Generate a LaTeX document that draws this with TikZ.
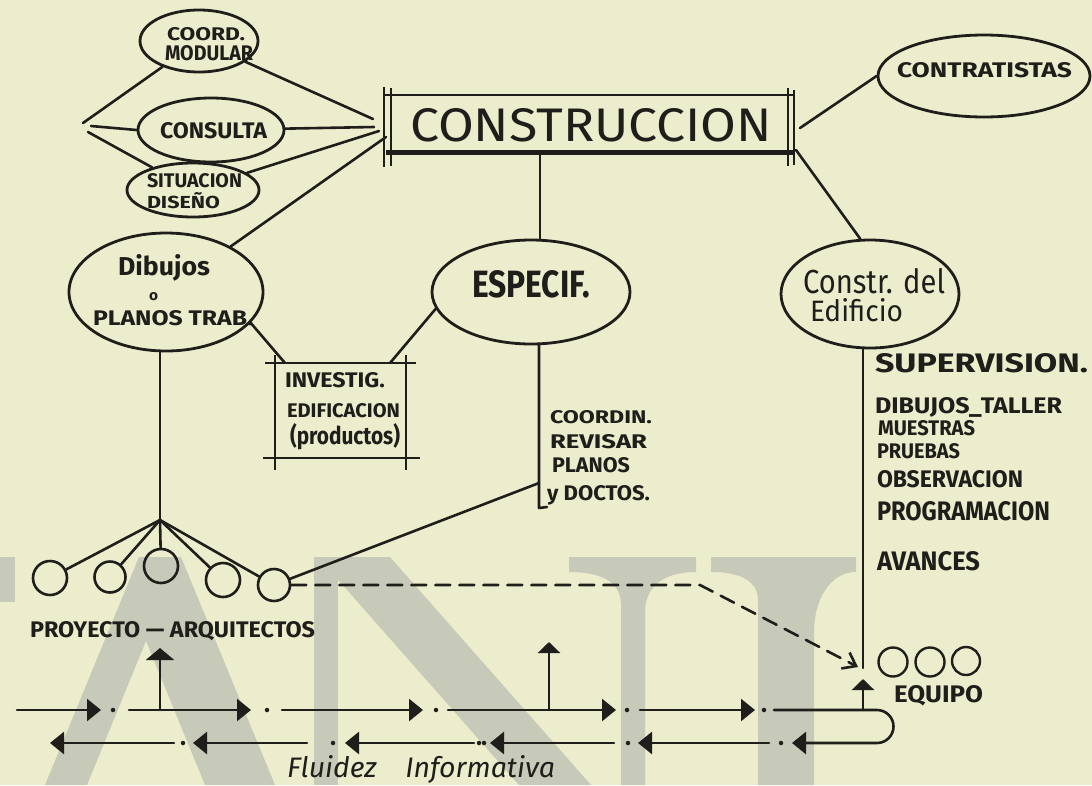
\documentclass[tikz,border=0pt]{standalone}
\usepackage{fontspec}
\setmainfont{Fira Sans}
\usepackage{graphicx}
\usetikzlibrary{shapes.geometric,arrows.meta,calc}
\definecolor{paper}{RGB}{236,237,205}
\definecolor{wm}{RGB}{199,201,185}
\definecolor{ink}{RGB}{32,30,26}
\begin{document}
\begin{tikzpicture}[x=1pt,y=-1pt,
  inkline/.style={draw=ink, line width=2.6pt, line cap=round, line join=round},
  oval/.style={ellipse, draw=ink, line width=2.8pt, inner sep=0pt},
  ring/.style={circle, draw=ink, line width=2.6pt, inner sep=0pt},
  txt/.style={anchor=base west, inner sep=0pt, outer sep=0pt, text=ink, font=\bfseries},
  dotnode/.style={circle, fill=ink, inner sep=0pt, minimum size=4.5pt},
  flow/.style={-{Triangle[length=14pt,width=22pt]}},
  uparrow/.style={-{Triangle[length=12pt,width=28pt]}},
  smallup/.style={-{Triangle[length=11pt,width=22pt]}},
  dashline/.style={dash pattern=on 15pt off 9pt},
  barb/.style={-{Straight Barb[length=12pt,width=18pt]}}
]
\useasboundingbox (0,0) rectangle (1092,785);
\fill[paper] (0,0) rectangle (1092,785);

% ---- watermark ----
\fill[wm] (0,557) rectangle (15,602);
\fill[wm] (139,557) -- (181,557) -- (275,785) -- (205,785) -- (146,641) -- (87,785) -- (45,785) -- cycle;
\fill[wm] (314,557) rectangle (338,785);
\fill[wm] (318,557) -- (390,557) -- (591,785) -- (519,785) -- cycle;
\fill[wm] (569,557) -- (696,557) -- (696,572) .. controls (662,572) and (645,588) .. (645,612) -- (645,785) -- (621,785) -- (621,605) .. controls (621,586) and (608,572) .. (569,572) -- cycle;
\fill[wm] (711,557) -- (856,557) -- (856,572) .. controls (830,572) and (814,600) .. (814,632) -- (814,785) -- (758,785) -- (758,600) .. controls (758,582) and (742,572) .. (711,572) -- cycle;

% ---- ellipses ----
\node[oval, minimum width=118pt, minimum height=62pt] (coord) at (199,41) {};
\node[oval, minimum width=146pt, minimum height=64pt] (consulta) at (211,130) {};
\node[oval, minimum width=132pt, minimum height=54pt] (situacion) at (193,190) {};
\node[oval, minimum width=212pt, minimum height=82pt] (contrat) at (984,76) {};
\node[oval, minimum width=194pt, minimum height=118pt] (dibujos) at (166,292) {};
\node[oval, minimum width=198pt, minimum height=104pt] (especif) at (531,292) {};
\node[oval, minimum width=178pt, minimum height=108pt] (constr) at (870,294) {};

% ---- CONSTRUCCION box ----
\node[inner sep=0pt, minimum width=404pt, minimum height=58pt] (cons) at (589,125) {};
\draw[ink, line width=2pt] (383,95) -- (795,95);
\draw[ink, line width=5pt] (386,152) -- (795,152);
\draw[ink, line width=2pt] (384,87) -- (384,167);
\draw[ink, line width=2pt] (391,88) -- (391,166);
\draw[ink, line width=2pt] (788,88) -- (788,166);
\draw[ink, line width=2pt] (794,90) -- (794,165);

% ---- INVESTIG box ----
\node[inner sep=0pt, minimum width=131pt, minimum height=95pt] (invest) at (340.5,410.5) {};
\draw[ink, line width=2.4pt] (265,363) -- (416,363);
\draw[ink, line width=2.4pt] (263,458) -- (420,458);
\draw[ink, line width=2.4pt] (275,355) -- (275,470);
\draw[ink, line width=2.4pt] (406,355) -- (406,470);

% ---- bottom circles ----
\node[ring, minimum size=34pt] (c1) at (50,578) {};
\node[ring, minimum size=31pt] (c2) at (110,577) {};
\node[ring, minimum size=34pt] (c3) at (161,566) {};
\node[ring, minimum size=34pt] (c4) at (223,580) {};
\node[ring, minimum size=32pt] (c5) at (274,585) {};
\node[ring, minimum size=29pt, line width=2.4pt] (e1) at (893,662) {};
\node[ring, minimum size=29pt, line width=2.4pt] (e2) at (930,662) {};
\node[ring, minimum size=28pt, line width=2.4pt] (e3) at (966,661) {};

% ---- texts ----
\node[txt] (t1) at (167,40) {\resizebox{78pt}{13pt}{COORD.}};
\node[txt] (t2) at (165,60) {\resizebox{88pt}{15pt}{MODULAR}};
\node[txt] (t3) at (160,138) {\resizebox{107pt}{16pt}{CONSULTA}};
\node[txt] (t4) at (147,187) {\resizebox{95pt}{14pt}{SITUACION}};
\node[txt] (t5) at (147,208) {\resizebox{73pt}{16pt}{DISEÑO}};
\node[txt] (t6) at (897,77) {\resizebox{175pt}{15pt}{CONTRATISTAS}};
\node[txt, font=\mdseries] (t7) at (410,141) {\resizebox{362pt}{33pt}{CONSTRUCCION}};
\node[txt] (t8) at (118,275) {\resizebox{92pt}{21pt}{Dibujos}};
\node[txt] (t9) at (149,300) {\resizebox{9pt}{8pt}{o}};
\node[txt] (t10) at (93,325) {\resizebox{160pt}{15pt}{PLANOS TRAB.}};
\node[txt] (t11) at (285,387) {\resizebox{100pt}{15pt}{INVESTIG.}};
\node[txt] (t12) at (287,417) {\resizebox{113pt}{14pt}{EDIFICACION}};
\node[txt] (t13) at (290,444) {\resizebox{110pt}{21pt}{(productos)}};
\node[txt] (t14) at (472,297) {\resizebox{118pt}{27pt}{ESPECIF.}};
\node[txt] (t15) at (550,423) {\resizebox{102pt}{13pt}{COORDIN.}};
\node[txt] (t16) at (550,448) {\resizebox{97pt}{14pt}{REVISAR}};
\node[txt] (t17) at (552,472) {\resizebox{78pt}{15pt}{PLANOS}};
\node[txt] (t18) at (547,500) {\resizebox{103pt}{15pt}{y DOCTOS.}};
\node[txt, font=\mdseries] (t19) at (803,293) {\resizebox{142pt}{25pt}{Constr. del}};
\node[txt, font=\mdseries] (t20) at (810,321) {\resizebox{93pt}{23pt}{Edificio}};
\node[txt] (t21) at (875,372) {\resizebox{213pt}{19pt}{SUPERVISION.}};
\node[txt] (t22) at (875,413) {\resizebox{187pt}{16pt}{DIBUJOS\_TALLER}};
\node[txt] (t23) at (878,435) {\resizebox{97pt}{15pt}{MUESTRAS}};
\node[txt] (t24) at (877,458) {\resizebox{83pt}{15pt}{PRUEBAS}};
\node[txt] (t25) at (877,487) {\resizebox{146pt}{17pt}{OBSERVACION}};
\node[txt] (t26) at (877,520) {\resizebox{173pt}{19pt}{PROGRAMACION}};
\node[txt] (t27) at (877,570) {\resizebox{103pt}{19pt}{AVANCES}};
\node[txt] (t28) at (894,702) {\resizebox{89pt}{17pt}{EQUIPO}};
\node[txt] (t29) at (30,637) {\resizebox{285pt}{16pt}{PROYECTO — ARQUITECTOS}};
\node[txt, font=\itshape] (t30) at (287,777) {\resizebox{268pt}{22pt}{Fluidez\quad Informativa}};

% ---- connectors top-left ----
\coordinate (lj1) at (83,123);
\coordinate (lj2) at (91,126);
\coordinate (lj3) at (88,132);
\draw[inkline] (lj1) -- (coord);
\draw[inkline] (lj2) -- (consulta.west);
\draw[inkline] (lj3) -- (situacion);
\coordinate (r1) at (373,119);
\coordinate (r2) at (374,127);
\coordinate (r3) at (379,131);
\coordinate (r4) at (386,137);
\draw[inkline] (coord) -- (r1);
\draw[inkline] (consulta) -- (r2);
\draw[inkline] (situacion) -- (r3);
\draw[inkline] (dibujos) -- (r4);

% ---- connectors from CONSTRUCCION ----
\coordinate (crt) at (800,128);
\draw[inkline] (crt) -- (contrat.west);
\coordinate (cb) at (540,155);
\draw[inkline] (cb) -- (cb |- especif.north);
\coordinate (cbr) at (796,150);
\draw[inkline] (cbr) -- (constr.100);

% ---- INVESTIG links ----
\draw[inkline] (dibujos.-20) -- ($(invest.north west)+(10,0)$);
\draw[inkline] (especif.190) -- ($(invest.north east)+(-16,0)$);

% ---- especif vertical ----
\coordinate (es1) at (539,344);
\coordinate (es2) at (539,508);
\coordinate (es3) at (547,507);
\coordinate (es4) at (539,483);
\draw[inkline] (es1) -- (es2) -- (es3);
\draw[inkline] (c5) -- (es4);

% ---- dibujos fan ----
\coordinate (dv) at (160,351);
\coordinate (fan) at (160,520);
\draw[inkline] (dv) -- (fan);
\foreach \c in {c1,c2,c3,c4,c5} \draw[inkline] (fan) -- (\c);

% ---- constr vertical & dashed ----
\coordinate (cv) at (863,348);
\coordinate (eqtip) at (863,668);
\draw[inkline] (cv) -- (eqtip);
\coordinate (dk) at (700,585);
\coordinate (dtip) at (858,667);
\draw[inkline, dashline, barb] (c5) -- (dk) -- (dtip);

% ---- flow lines ----
\foreach \a/\b [count=\i] in {17/101,129/251,282/423,448/616,640/755} {
  \coordinate (ta\i) at (\a,710);
  \coordinate (tb\i) at (\b,710);
  \draw[inkline, flow] (ta\i) -- (tb\i);
}
\foreach \x [count=\i] in {113,267,436,627,764} \node[dotnode] (td\i) at (\x,710) {};
\coordinate (ta6) at (774,710);
\coordinate (lp) at (877,710);
\coordinate (bb1) at (792,743);
\draw[inkline, flow] (ta6) -- (lp) arc[start angle=-90,end angle=90,radius=16.5] -- (bb1);
\foreach \a/\b [count=\i from 2] in {769/638,614/490,474/345,307/193,174/50} {
  \coordinate (ba\i) at (\a,743);
  \coordinate (bb\i) at (\b,743);
  \draw[inkline, flow] (ba\i) -- (bb\i);
}
\foreach \x [count=\i] in {781,628,484,479,333,183} \node[dotnode] (bd\i) at (\x,743) {};

% ---- up arrows ----
\coordinate (u1a) at (160,710);
\coordinate (u1b) at (160,648);
\coordinate (u2a) at (549,710);
\coordinate (u2b) at (549,642);
\coordinate (u3a) at (863,710);
\coordinate (u3b) at (863,679);
\draw[inkline, uparrow] (u1a) -- (u1b);
\draw[inkline, smallup] (u2a) -- (u2b);
\draw[inkline, smallup] (u3a) -- (u3b);
\end{tikzpicture}
\end{document}
